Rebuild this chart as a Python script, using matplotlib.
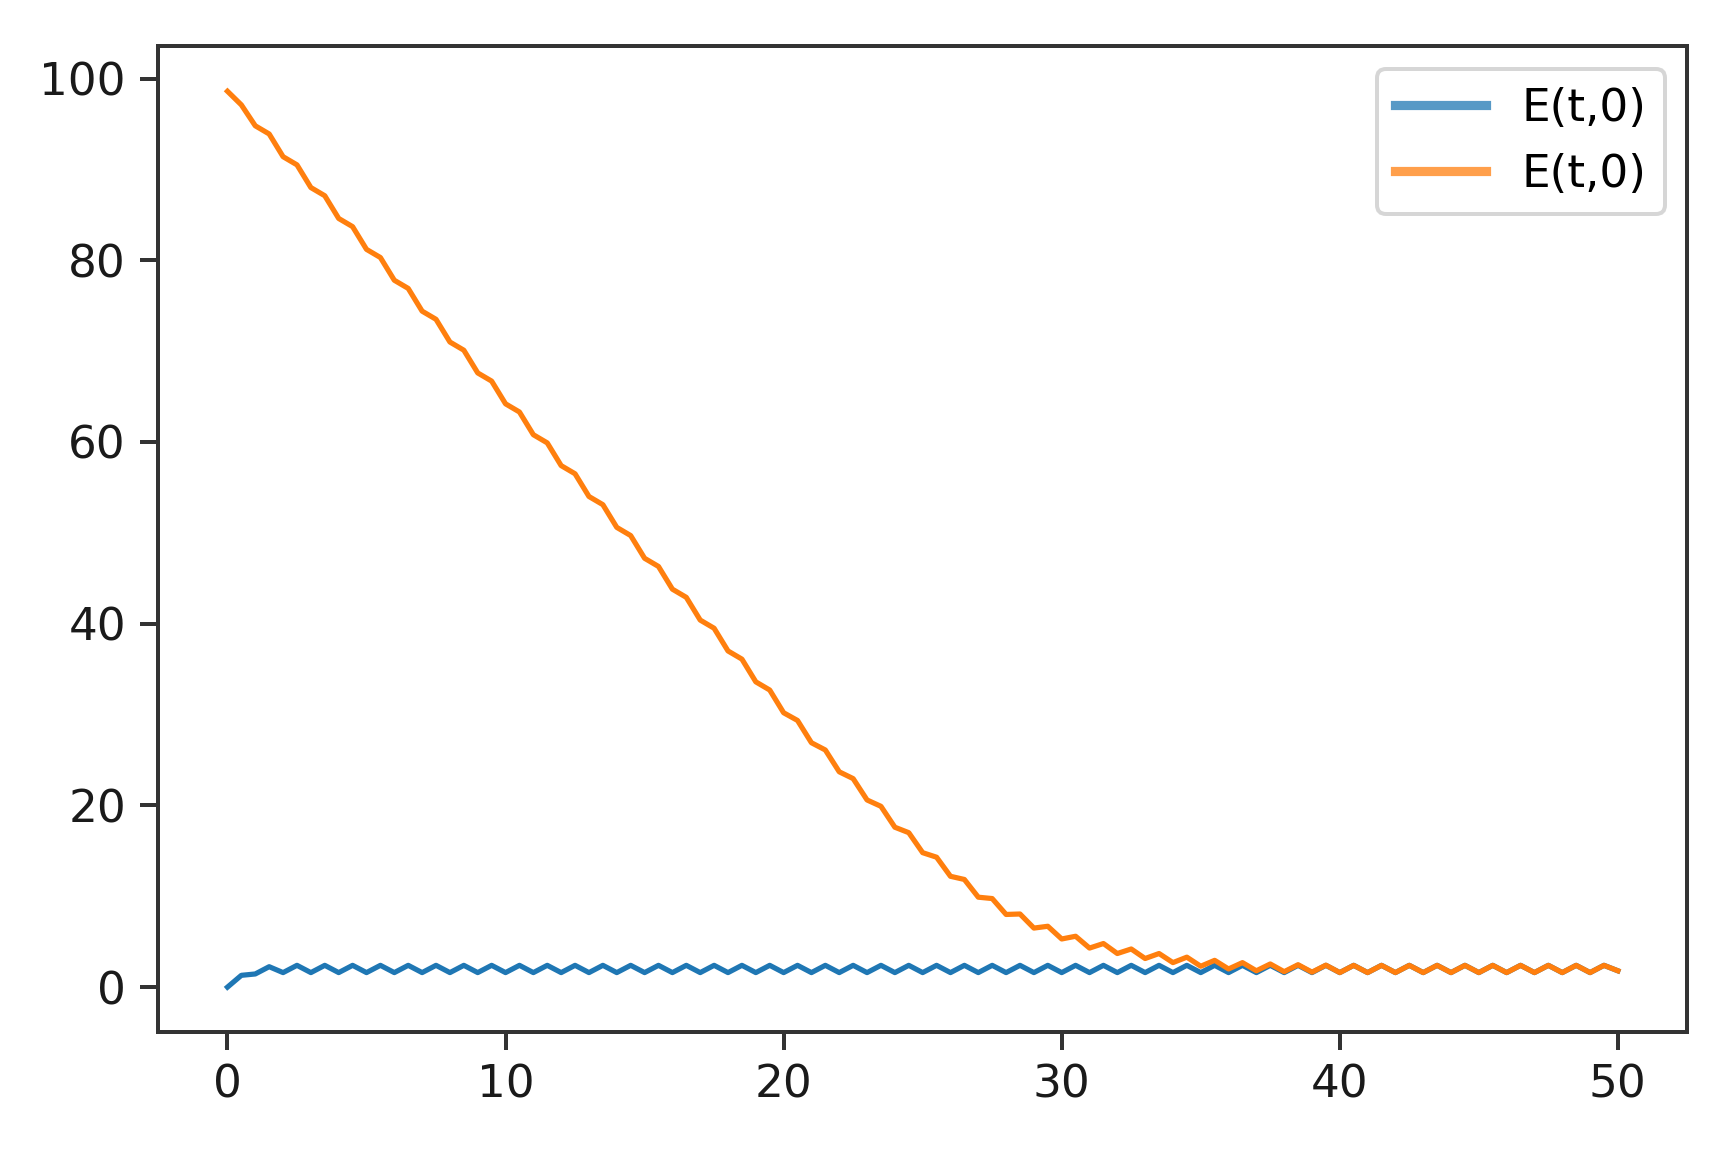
import matplotlib
matplotlib.use("Agg")
from matplotlib import pyplot as plt

# time axis, one sample every half unit from 0 to 50
t = [i / 2 for i in range(101)]

# E(t,0): first run starts near 0
e_low = [0.0, 1.3, 1.45, 2.25, 1.6, 2.4, 1.6, 2.4, 1.6, 2.4,
         1.6, 2.4, 1.6, 2.4, 1.6, 2.4, 1.6, 2.4, 1.6, 2.4,
         1.6, 2.4, 1.6, 2.4, 1.6, 2.4, 1.6, 2.4, 1.6, 2.4,
         1.6, 2.4, 1.6, 2.4, 1.6, 2.4, 1.6, 2.4, 1.6, 2.4,
         1.6, 2.4, 1.6, 2.4, 1.6, 2.4, 1.6, 2.4, 1.6, 2.4,
         1.6, 2.4, 1.6, 2.4, 1.6, 2.4, 1.6, 2.4, 1.6, 2.4,
         1.6, 2.4, 1.6, 2.4, 1.6, 2.4, 1.6, 2.4, 1.6, 2.4,
         1.6, 2.4, 1.6, 2.4, 1.6, 2.4, 1.6, 2.4, 1.6, 2.4,
         1.6, 2.4, 1.6, 2.4, 1.6, 2.4, 1.6, 2.4, 1.6, 2.4,
         1.6, 2.4, 1.6, 2.4, 1.6, 2.4, 1.6, 2.4, 1.6, 2.4,
         1.8]

# second run starts near 100 and decays
e_high = [98.6, 97.1, 94.8, 93.9, 91.4, 90.5, 88.0, 87.1, 84.6, 83.7,
          81.2, 80.3, 77.8, 76.9, 74.4, 73.5, 71.0, 70.1, 67.6, 66.7,
          64.2, 63.3, 60.8, 59.9, 57.4, 56.5, 54.0, 53.1, 50.6, 49.7,
          47.2, 46.3, 43.8, 42.9, 40.4, 39.5, 37.0, 36.1, 33.6, 32.7,
          30.2, 29.35, 26.9, 26.1, 23.7, 22.95, 20.6, 19.9, 17.6, 17.0,
          14.8, 14.3, 12.2, 11.85, 9.9, 9.75, 8.0, 8.05, 6.5, 6.7,
          5.3, 5.6, 4.3, 4.8, 3.7, 4.2, 3.15, 3.7, 2.7, 3.3,
          2.3, 2.95, 2.0, 2.7, 1.8, 2.55, 1.7, 2.47, 1.65, 2.42,
          1.6, 2.4, 1.6, 2.4, 1.6, 2.4, 1.6, 2.4, 1.6, 2.4,
          1.6, 2.4, 1.6, 2.4, 1.6, 2.4, 1.6, 2.4, 1.6, 2.4,
          1.8]

labels = ["E(t,0)", "E(t,0)"]
colors = ["#1f77b4", "#ff7f0e"]

plt.rcParams["font.family"] = ["DejaVu Sans"]
plt.rcParams["font.size"] = 11.3

fig = plt.figure(figsize=(6, 1153 / 288), dpi=288)
ax = fig.add_axes([0.0914, 0.105, 0.8851, 0.8547])

ax.plot(t, e_low, color=colors[0], lw=1.3, label=labels[0])
ax.plot(t, e_high, color=colors[1], lw=1.3, label=labels[1])

ax.set_xticks([0, 10, 20, 30, 40, 50])
ax.set_yticks([0, 20, 40, 60, 80, 100])
ax.tick_params(length=4.5, width=1.0, color="#333333", labelcolor="#1a1a1a")
for s in ax.spines.values():
    s.set_linewidth(1.0)
    s.set_color("#333333")

leg = ax.legend(loc="upper right")
for ln in leg.get_lines():
    ln.set_linewidth(2.3)
    ln.set_alpha(0.75)

fig.savefig("out.png", dpi=288)
